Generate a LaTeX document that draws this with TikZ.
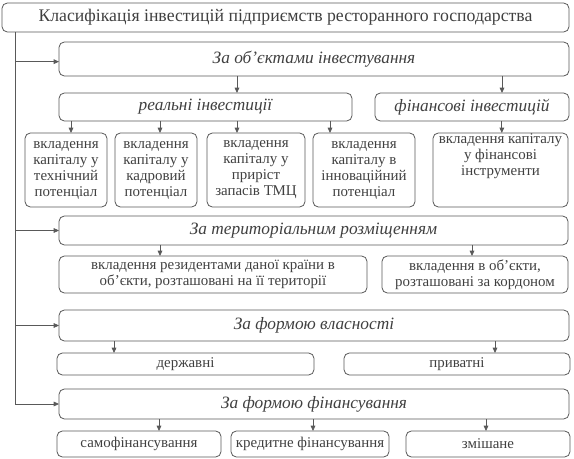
\documentclass[tikz,border=0pt]{standalone}
\usepackage{fontspec}
\setmainfont{Liberation Serif}
\usetikzlibrary{arrows.meta, positioning}

\begin{document}
\begin{tikzpicture}[
  every node/.style={font=\fontsize{11.2}{12}\selectfont, text=black!75},
  box/.style={draw=black!65, line width=0.6pt, rounded corners=4pt, inner sep=0pt, outer sep=0pt, align=center},
  head/.style={box, font=\fontsize{13}{14.5}\selectfont\itshape},
  arr/.style={-{Triangle[length=4pt, width=3.5pt]}, draw=black!65, line width=0.6pt},
]
  \useasboundingbox (0,0) rectangle (430.5pt,-344.25pt);

  \node[box, font=\fontsize{13.3}{15}\selectfont, minimum width=425.25pt, minimum height=21.75pt, anchor=north west] (cls) at (1.5pt,-2.25pt) {Класифікація інвестицій підприємств ресторанного господарства};

  % за об'єктами
  \node[head, minimum width=382.5pt, minimum height=25.5pt, below right=7.5pt and 42.75pt of cls.south west, anchor=north west] (byobj) {За об’єктами інвестування};
  \node[head, minimum width=219.75pt, minimum height=21pt, below=12.75pt of byobj.south west, anchor=north west] (real) {реальні інвестиції};
  \node[head, minimum width=145.5pt, minimum height=21pt, right=17.25pt of real] (fin) {фінансові інвестицій};

  \node[box, minimum width=61.5pt, minimum height=55.5pt, below left=9pt and 25.5pt of real.south west, anchor=north west] (tech) {вкладення\\капіталу у\\технічний\\потенціал};
  \node[box, minimum width=61.5pt, minimum height=55.5pt, right=6pt of tech] (staff) {вкладення\\капіталу у\\кадровий\\потенціал};
  \node[box, minimum width=73.5pt, minimum height=55.5pt, right=7.5pt of staff] (stock) {вкладення\\капіталу у\\приріст\\запасів ТМЦ};
  \node[box, minimum width=76.5pt, minimum height=55.5pt, right=6pt of stock] (innov) {вкладення\\капіталу в\\інноваційний\\потенціал};
  \node[box, minimum width=101.25pt, minimum height=55.5pt, right=13.5pt of innov] (instr) {вкладення капіталу\\у фінансові\\інструменти\\[11.5pt]};

  % за територією
  \node[head, minimum width=381.75pt, minimum height=21.75pt, below right=6.75pt and 25.5pt of tech.south west, anchor=north west] (byterr) {За територіальним розміщенням};
  \node[box, minimum width=231pt, minimum height=27.75pt, below=8.25pt of byterr.south west, anchor=north west] (home) {вкладення резидентами даної країни в\\об’єкти, розташовані на її території};
  \node[box, minimum width=139.5pt, minimum height=27.75pt, right=11.25pt of home] (abroad) {вкладення в об’єкти,\\розташовані за кордоном};

  % за власністю
  \node[head, minimum width=382.5pt, minimum height=23.25pt, below=12.75pt of home.south west, anchor=north west] (byown) {За формою власності};
  \node[box, minimum width=192.75pt, minimum height=16.5pt, below left=9pt and 1.5pt of byown.south west, anchor=north west] (state) {державні};
  \node[box, minimum width=169.5pt, minimum height=16.5pt, right=22.5pt of state] (priv) {приватні};

  % за фінансуванням
  \node[head, minimum width=382.5pt, minimum height=22.5pt, below right=10.5pt and 1.5pt of state.south west, anchor=north west] (byfin) {За формою фінансування};
  \node[box, minimum width=123pt, minimum height=19.5pt, below left=9pt and 1.5pt of byfin.south west, anchor=north west] (self) {самофінансування};
  \node[box, minimum width=118.5pt, minimum height=19.5pt, right=7.5pt of self] (credit) {кредитне фінансування};
  \node[box, minimum width=123pt, minimum height=19.5pt, right=12.75pt of credit] (mixed) {змішане};

  % стовбур
  \coordinate (trunk) at ([xshift=9.75pt]cls.south west);
  \draw[draw=black!65, line width=0.6pt] (trunk) -- (trunk |- byfin.west);
  \draw[arr] ([yshift=-2pt]trunk |- byobj.west) -- ([yshift=-2pt]byobj.west);
  \draw[arr] (trunk |- byterr.west) -- (byterr.west);
  \draw[arr] (trunk |- byown.west) -- (byown.west);
  \draw[arr] (trunk |- byfin.west) -- (byfin.west);

  \draw[arr] ([xshift=23.6pt]real.north |- byobj.south) -- ([xshift=23.6pt]real.north);
  \draw[arr] ([xshift=22.5pt]fin.north |- byobj.south) -- ([xshift=22.5pt]fin.north);
  \draw[arr] ([xshift=3.75pt]tech.north |- real.south) -- ([xshift=3.75pt]tech.north);
  \draw[arr] ([xshift=3pt]staff.north |- real.south) -- ([xshift=3pt]staff.north);
  \draw[arr] ([xshift=-14.25pt]stock.north |- real.south) -- ([xshift=-14.25pt]stock.north);
  \draw[arr] ([xshift=-25.5pt]innov.north |- real.south) -- ([xshift=-25.5pt]innov.north);
  \draw[arr] ([xshift=1pt]instr.north |- fin.south) -- ([xshift=1pt]instr.north);

  \draw[arr] ([xshift=-39.75pt]home.north |- byterr.south) -- ([xshift=-39.75pt]home.north);
  \draw[arr] ([xshift=-2.25pt]abroad.north |- byterr.south) -- ([xshift=-2.25pt]abroad.north);

  \draw[arr] ([xshift=-53.6pt]state.north |- byown.south) -- ([xshift=-53.6pt]state.north);
  \draw[arr] ([xshift=28.5pt]priv.north |- byown.south) -- ([xshift=28.5pt]priv.north);

  \draw[arr] ([xshift=15pt]self.north |- byfin.south) -- ([xshift=15pt]self.north);
  \draw[arr] ([xshift=2.25pt]credit.north |- byfin.south) -- ([xshift=2.25pt]credit.north);
  \draw[arr] ([xshift=-1.5pt]mixed.north |- byfin.south) -- ([xshift=-1.5pt]mixed.north);
\end{tikzpicture}
\end{document}
